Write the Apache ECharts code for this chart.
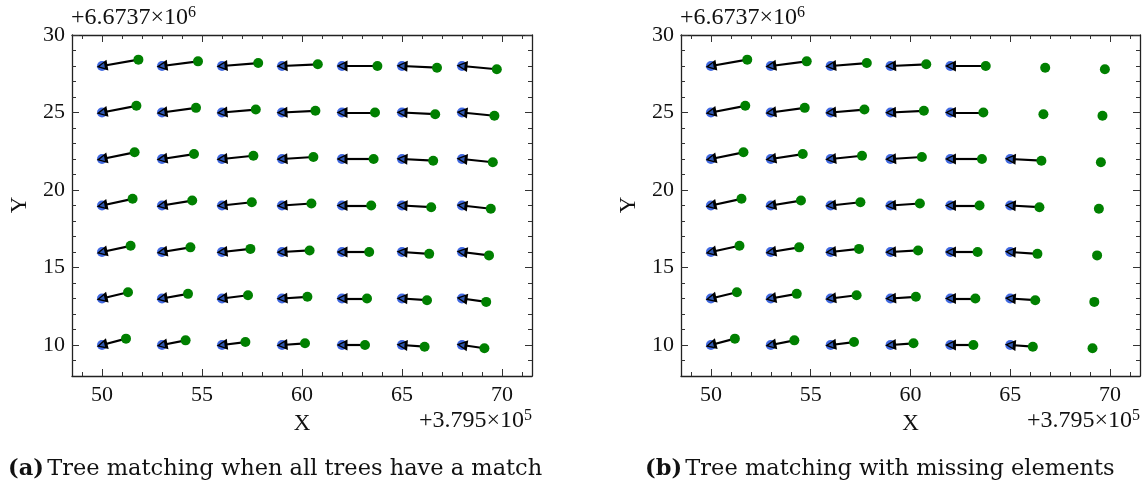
<!DOCTYPE html>
<html>
<head>
<meta charset="utf-8">
<script src="https://cdn.jsdelivr.net/npm/echarts@6/dist/echarts.min.js"></script>
<style>
html,body{margin:0;padding:0;background:#fff;}
#c{width:1146px;height:485px;}
</style>
</head>
<body>
<div id="c"></div>
<script>
// Detected tree positions (blue), offsets from +3.795e5 / +6.6737e6
const blueX = [50, 53, 56, 59, 62, 65, 68];
const rowY = [28, 25, 22, 19, 16, 13, 10];
// Reference tree positions (green), one array per row (top to bottom)
const greenX = [
  [51.82, 54.80, 57.81, 60.79, 63.77, 66.75, 69.74],
  [51.72, 54.70, 57.69, 60.67, 63.65, 66.66, 69.62],
  [51.63, 54.60, 57.57, 60.57, 63.58, 66.56, 69.54],
  [51.53, 54.51, 57.49, 60.47, 63.46, 66.46, 69.44],
  [51.43, 54.42, 57.42, 60.38, 63.36, 66.36, 69.35],
  [51.30, 54.30, 57.30, 60.27, 63.25, 66.25, 69.21],
  [51.20, 54.18, 57.17, 60.15, 63.15, 66.13, 69.12]
];
const greenY = [
  [28.41, 28.30, 28.19, 28.11, 28.00, 27.89, 27.79],
  [25.43, 25.30, 25.19, 25.11, 25.00, 24.89, 24.79],
  [22.43, 22.32, 22.21, 22.13, 22.00, 21.89, 21.79],
  [19.43, 19.32, 19.21, 19.13, 19.00, 18.89, 18.79],
  [16.40, 16.30, 16.20, 16.10, 16.00, 15.88, 15.78],
  [13.40, 13.30, 13.21, 13.11, 13.00, 12.89, 12.78],
  [10.41, 10.30, 10.19, 10.11, 10.00, 9.89, 9.79]
];
// number of detected (blue) trees per row, panel (a) and panel (b)
const detectedA = [7, 7, 7, 7, 7, 7, 7];
const detectedB = [5, 5, 6, 6, 6, 6, 6];
const xTicks = [50, 55, 60, 65, 70];
const yTicks = [10, 15, 20, 25, 30];
const xMinor = [49, 51, 52, 53, 54, 56, 57, 58, 59, 61, 62, 63, 64, 66, 67, 68, 69, 71];
const yMinor = [9, 11, 12, 13, 14, 16, 17, 18, 19, 21, 22, 23, 24, 26, 27, 28, 29];
const xRange = [48.5, 71.5];
const yRange = [8, 30];
const captions = ['(a)', '(b)'];
const captionTexts = ['Tree matching when all trees have a match', 'Tree matching with missing elements'];

const chart = echarts.init(document.getElementById('c'));
const FONT = '"Liberation Serif", "DejaVu Serif", serif';
const CAPFONT = '"DejaVu Serif", serif';
const grids = [
  {left: 72, top: 35, width: 460, height: 341},
  {left: 681, top: 35, width: 459, height: 341}
];
const xAxes = [], yAxes = [], series = [], graphics = [];

function mkX(gi, pos, major, labels) {
  return {
    type: 'value', gridIndex: gi, position: pos, min: xRange[0], max: xRange[1],
    axisLine: {show: major, onZero: false, lineStyle: {color: '#222', width: 1.3}},
    axisTick: {show: true, inside: true, length: major ? 7 : 4, customValues: major ? xTicks : xMinor,
      lineStyle: {color: '#333', width: 1}},
    axisLabel: {show: labels, customValues: xTicks, margin: 8, color: '#111', fontFamily: FONT, fontSize: 22},
    splitLine: {show: false}
  };
}
function mkY(gi, pos, major, labels) {
  return {
    type: 'value', gridIndex: gi, position: pos, min: yRange[0], max: yRange[1],
    axisLine: {show: major, onZero: false, lineStyle: {color: '#222', width: 1.3}},
    axisTick: {show: true, inside: true, length: major ? 7 : 4, customValues: major ? yTicks : yMinor,
      lineStyle: {color: '#333', width: 1}},
    axisLabel: {show: labels, customValues: yTicks, margin: 7, color: '#111', fontFamily: FONT, fontSize: 22},
    splitLine: {show: false}
  };
}

[detectedA, detectedB].forEach((detected, gi) => {
  const base = xAxes.length;
  xAxes.push(mkX(gi, 'bottom', true, true), mkX(gi, 'bottom', false, false), mkX(gi, 'top', true, false), mkX(gi, 'top', false, false));
  yAxes.push(mkY(gi, 'left', true, true), mkY(gi, 'left', false, false), mkY(gi, 'right', true, false), mkY(gi, 'right', false, false));
  const blue = [], green = [], arrows = [];
  rowY.forEach((y, r) => {
    for (let c = 0; c < blueX.length; c++) {
      green.push([greenX[r][c], greenY[r][c]]);
      if (c < detected[r]) {
        blue.push([blueX[c], y]);
        arrows.push({coords: [[greenX[r][c], greenY[r][c]], [blueX[c], y]]});
      }
    }
  });
  series.push({
    type: 'scatter', xAxisIndex: base, yAxisIndex: base, data: blue, symbolSize: 10,
    itemStyle: {color: '#4169e1', opacity: 1}, z: 2, silent: true
  });
  series.push({
    type: 'lines', coordinateSystem: 'cartesian2d', xAxisIndex: base, yAxisIndex: base, data: arrows,
    symbol: ['none', 'triangle'], symbolSize: 11,
    lineStyle: {color: '#000', width: 2.2, opacity: 1, curveness: 0}, z: 3, silent: true
  });
  series.push({
    type: 'lines', coordinateSystem: 'cartesian2d', xAxisIndex: base, yAxisIndex: base, data: arrows,
    symbol: ['none', 'triangle'], symbolSize: 5,
    lineStyle: {color: '#2f58b0', width: 0, opacity: 1, curveness: 0}, z: 4, silent: true
  });
  series.push({
    type: 'scatter', xAxisIndex: base, yAxisIndex: base, data: green, symbolSize: 10,
    itemStyle: {color: '#008000', opacity: 1}, z: 5, silent: true
  });
  const g = grids[gi];
  graphics.push({type: 'text', x: g.left - 1, y: 18, style: {
    text: '{a|+6.6737×10}{s|6}', textVerticalAlign: 'middle', textAlign: 'left',
    rich: {a: {fontFamily: FONT, fontSize: 24, fill: '#111'}, s: {fontFamily: FONT, fontSize: 16, fill: '#111', verticalAlign: 'top', padding: [0, 0, 10, 0]}}
  }});
  graphics.push({type: 'text', x: g.left + g.width, y: 421, style: {
    text: '{a|+3.795×10}{s|5}', textVerticalAlign: 'middle', textAlign: 'right',
    rich: {a: {fontFamily: FONT, fontSize: 24, fill: '#111'}, s: {fontFamily: FONT, fontSize: 16, fill: '#111', verticalAlign: 'top', padding: [0, 0, 10, 0]}}
  }});
  graphics.push({type: 'text', x: g.left + g.width * (60 - xRange[0]) / (xRange[1] - xRange[0]), y: 424, style: {
    text: 'X', textAlign: 'center', textVerticalAlign: 'middle', fontFamily: FONT, fontSize: 23, fill: '#111'
  }});
  graphics.push({type: 'text', x: g.left - 52, y: 205, rotation: Math.PI / 2, style: {
    text: 'Y', textAlign: 'center', textVerticalAlign: 'middle', fontFamily: FONT, fontSize: 23, fill: '#111'
  }});
  graphics.push({type: 'text', x: gi === 0 ? 8 : 645, y: 469, style: {
    text: '{b|' + captions[gi] + '} {r|' + captionTexts[gi] + '}', textVerticalAlign: 'middle', textAlign: 'left',
    rich: {b: {fontFamily: CAPFONT, fontSize: 22.5, fontWeight: 'bold', fill: '#111'}, r: {fontFamily: CAPFONT, fontSize: 22.5, fill: '#111'}}
  }});
});

chart.setOption({
  backgroundColor: '#fff',
  animation: false,
  grid: grids,
  xAxis: xAxes,
  yAxis: yAxes,
  series: series,
  graphic: graphics
});
</script>
</body>
</html>
